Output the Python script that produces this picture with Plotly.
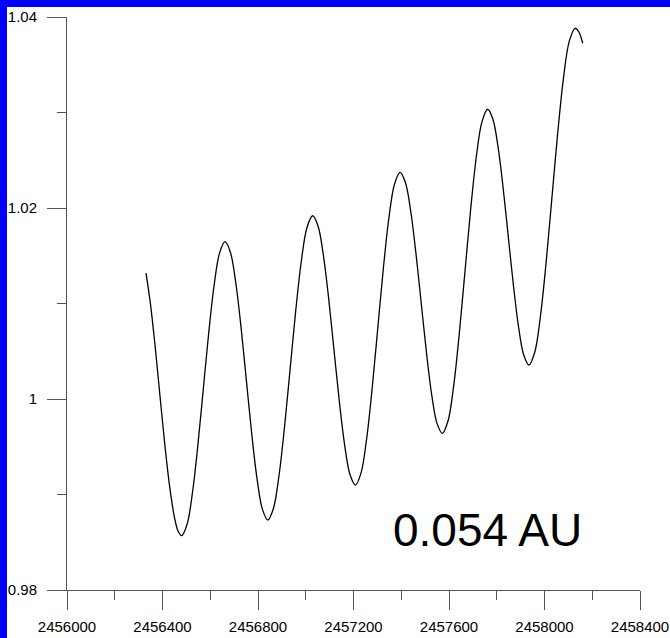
import plotly.graph_objects as go

# Julian dates
jd = [2456331, 2456350, 2456370, 2456390, 2456410, 2456430, 2456450, 2456465,
      2456480, 2456502.75, 2456525.5, 2456548.25, 2456571, 2456593.75, 2456616.5, 2456639.25,
      2456662, 2456684.375, 2456706.75, 2456729.125, 2456751.5, 2456773.875, 2456796.25, 2456818.625,
      2456841, 2456864.5, 2456888, 2456911.5, 2456935, 2456958.5, 2456982, 2457005.5,
      2457029, 2457051.375, 2457073.75, 2457096.125, 2457118.5, 2457140.875, 2457163.25, 2457185.625,
      2457208, 2457231.375, 2457254.75, 2457278.125, 2457301.5, 2457324.875, 2457348.25, 2457371.625,
      2457395, 2457417.125, 2457439.25, 2457461.375, 2457483.5, 2457505.625, 2457527.75, 2457549.875,
      2457572, 2457595.75, 2457619.5, 2457643.25, 2457667, 2457690.75, 2457714.5, 2457738.25,
      2457762, 2457783.625, 2457805.25, 2457826.875, 2457848.5, 2457870.125, 2457891.75, 2457913.375,
      2457935, 2457959.125, 2457983.25, 2458007.375, 2458031.5, 2458055.625, 2458079.75, 2458103.875,
      2458128, 2458144, 2458160]
# distance values (AU)
dist = [1.01319, 1.00986, 1.0053, 1.00018, 0.99516, 0.99083, 0.98761, 0.98618,
        0.98569, 0.98686, 0.99020, 0.99519, 1.00108, 1.00697, 1.01196, 1.01530,
        1.01647, 1.01536, 1.01220, 1.00748, 1.00190, 0.99633, 0.99160, 0.98844,
        0.98733, 0.98854, 0.99199, 0.99717, 1.00326, 1.00936, 1.01453, 1.01798,
        1.01919, 1.01812, 1.01506, 1.01049, 1.00509, 0.99970, 0.99512, 0.99206,
        0.99099, 0.99224, 0.99579, 1.00110, 1.00737, 1.01363, 1.01895, 1.02249,
        1.02374, 1.02270, 1.01974, 1.01530, 1.01008, 1.00485, 1.00041, 0.99745,
        0.99641, 0.99770, 1.00138, 1.00688, 1.01338, 1.01987, 1.02537, 1.02905,
        1.03034, 1.02932, 1.02642, 1.02207, 1.01695, 1.01183, 1.00748, 1.00458,
        1.00356, 1.00490, 1.00872, 1.01445, 1.02119, 1.02794, 1.03366, 1.03748,
        1.03882, 1.03843, 1.03725]

annotation_text = "0.054 AU"

W, H = 670, 638
L, R, T, B = 67, 30, 17, 48
pw, ph = W - L - R, H - T - B

font = dict(family="Liberation Sans, Arial, sans-serif", size=15, color="black")
axcol = "#555555"

fig = go.Figure()
fig.add_trace(go.Scatter(x=jd, y=dist, mode="lines",
                         line=dict(color="black", width=1.3, shape="spline", smoothing=1.0),
                         showlegend=False, hoverinfo="skip"))

def px(xp):
    return (xp - L) / pw

def py(yp):
    return (H - B - yp) / ph

fig.update_layout(
    width=W, height=H,
    margin=dict(l=L, r=R, t=T, b=B, pad=0, autoexpand=False),
    paper_bgcolor="white", plot_bgcolor="white",
    font=font,
    xaxis=dict(range=[2456000, 2458400], tick0=2456000, dtick=400, tickformat="d",
               automargin=False,
               showline=True, linecolor=axcol, linewidth=1, ticks="outside", ticklen=19,
               tickcolor=axcol, tickwidth=1, showgrid=False, zeroline=False,
               ticklabelstandoff=4,
               minor=dict(dtick=200, tick0=2456000, ticks="outside", ticklen=9,
                          tickcolor=axcol, tickwidth=1, showgrid=False)),
    yaxis=dict(range=[0.98, 1.04], tick0=0.98, dtick=0.02,
               automargin=False,
               showline=True, linecolor=axcol, linewidth=1, ticks="outside", ticklen=19,
               tickcolor=axcol, tickwidth=1, showgrid=False, zeroline=False,
               ticklabelstandoff=7,
               minor=dict(dtick=0.01, tick0=0.98, ticks="outside", ticklen=9,
                          tickcolor=axcol, tickwidth=1, showgrid=False)),
    annotations=[dict(text=annotation_text, xref="paper", yref="paper",
                      x=px(487.5), y=py(530), xanchor="center", yanchor="middle",
                      showarrow=False,
                      font=dict(family="Liberation Sans, Arial, sans-serif", size=46, color="black"))],
    shapes=[
        dict(type="rect", xref="paper", yref="paper", x0=px(0), x1=px(7), y0=py(H), y1=py(0),
             fillcolor="#0000ff", line=dict(width=0), layer="above"),
        dict(type="rect", xref="paper", yref="paper", x0=px(0), x1=px(W), y0=py(7), y1=py(0),
             fillcolor="#0000ff", line=dict(width=0), layer="above"),
    ],
)

fig.write_html("out.html", post_script="document.body.style.margin='0px';document.body.style.overflow='hidden';")
